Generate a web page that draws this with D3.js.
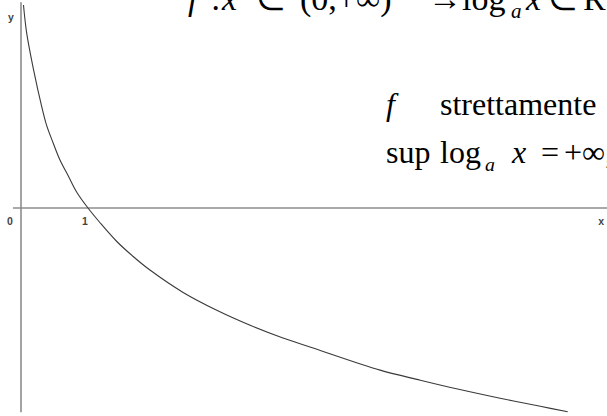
<!DOCTYPE html>
<html>
<head>
<meta charset="utf-8">
<script src="https://cdn.jsdelivr.net/npm/d3@7/dist/d3.min.js"></script>
<style>
  html, body { margin: 0; padding: 0; background: #fff; }
  svg { display: block; overflow: hidden; }
</style>
</head>
<body>
<script>
// Points of y = log_a x (0 < a < 1), sampled along the drawn curve
const curveX = [0.037, 0.085, 0.18, 0.31, 0.38, 0.48, 0.58, 0.71, 0.83, 1.00,
                1.18, 1.43, 1.67, 1.93, 2.42, 2.93, 3.42, 3.91, 4.36, 5.36,
                5.96, 6.55, 7.15, 7.75, 8.16];
const curveY = [3.03, 2.61, 2.10, 1.51, 1.24, 0.97, 0.72, 0.47, 0.24, 0.00,
                -0.22, -0.50, -0.72, -0.93, -1.26, -1.53, -1.75, -1.94, -2.09, -2.42,
                -2.57, -2.71, -2.84, -2.96, -3.04];

// Axis extents and tick labels
const xAxisRange = [-0.12, 8.85];
const yAxisRange = [-3.05, 3.07];
const tickLabels = [{ v: 0, t: "0" }, { v: 1, t: "1" }];
const axisNames = { x: "x", y: "y" };

const W = 607, H = 416;
const svg = d3.select("body").append("svg").attr("width", W).attr("height", H);
svg.append("rect").attr("width", W).attr("height", H).attr("fill", "#fff");

const x = d3.scaleLinear().domain([0, 1]).range([21, 88]);
const y = d3.scaleLinear().domain([0, 1]).range([208, 141]);

// Axes
const axisColor = "#8c8c8c";
svg.append("line")
  .attr("x1", x(xAxisRange[0])).attr("x2", x(xAxisRange[1]))
  .attr("y1", y(0)).attr("y2", y(0))
  .attr("stroke", axisColor).attr("stroke-width", 1.6);
svg.append("line")
  .attr("x1", x(0)).attr("x2", x(0))
  .attr("y1", y(yAxisRange[0])).attr("y2", y(yAxisRange[1]))
  .attr("stroke", axisColor).attr("stroke-width", 1.6);

// Curve
const pts = curveX.map((v, i) => [v, curveY[i]]);
svg.append("path")
  .datum(pts)
  .attr("d", d3.line().x(d => x(d[0])).y(d => y(d[1])).curve(d3.curveCatmullRom))
  .attr("fill", "none").attr("stroke", "#3a3a3a").attr("stroke-width", 1.1);

// Small axis labels
const small = { "font-family": "Liberation Sans, Arial, sans-serif", "font-size": 10.5, "font-weight": "bold", fill: "#444" };
function label(txt, px, py) {
  const t = svg.append("text").attr("x", px).attr("y", py).text(txt);
  Object.entries(small).forEach(([k, v]) => t.attr(k, v));
  return t;
}
tickLabels.forEach(d => {
  label(d.t, d.v === 0 ? x(d.v) - 14 : x(d.v) - 6, y(0) + 17);
});
label(axisNames.x, x(8.6) + 1, y(0) + 17);
label(axisNames.y, x(0) - 13, 21);

// Formulas: each piece is placed at its own x, optionally italic or subscript
const serif = "Liberation Serif, Times New Roman, serif";
function mathLine(py, size, parts) {
  const g = svg.append("g").attr("font-family", serif).attr("font-size", size).attr("fill", "#000");
  parts.forEach(p => {
    const t = g.append("text").attr("x", p.x).attr("y", p.sub ? py + size * 0.24 : py).text(p.t);
    if (p.i) t.attr("font-style", "italic");
    if (p.sub) t.attr("font-size", size * 0.62);
  });
}

mathLine(10, 34, [
  { t: "f", i: true, x: 188 }, { t: ":", x: 211 }, { t: "x", i: true, x: 222 },
  { t: "∈", x: 256 }, { t: "(0,+∞)", x: 300 }, { t: "→", x: 428 },
  { t: "log", x: 462 }, { t: "a", i: true, sub: true, x: 511 },
  { t: "x", i: true, x: 526 }, { t: "∈", x: 548 }, { t: "R", x: 583 }
]);

mathLine(115, 32, [
  { t: "f", i: true, x: 386 }, { t: "strettamente", x: 440 }
]);

mathLine(163, 32, [
  { t: "sup", x: 386 }, { t: "log", x: 440 }, { t: "a", i: true, sub: true, x: 485 },
  { t: "x", i: true, x: 512 }, { t: "=", x: 541 }, { t: "+∞;", x: 564 }
]);
</script>
</body>
</html>
